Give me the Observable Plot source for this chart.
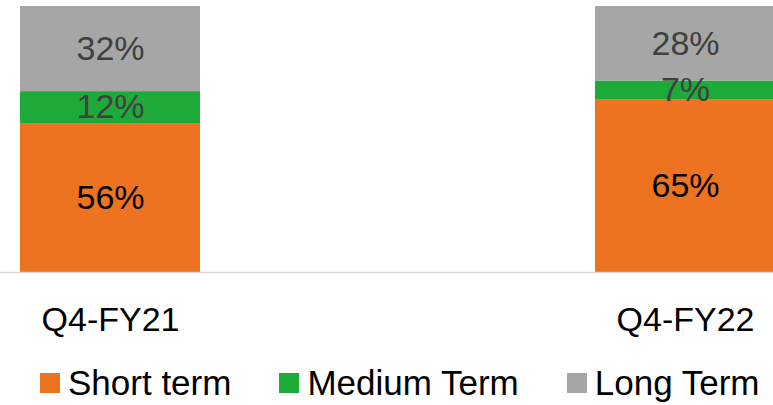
<!DOCTYPE html>
<html>
<head>
<meta charset="utf-8">
<script src="https://cdn.jsdelivr.net/npm/d3@7"></script>
<script src="https://cdn.jsdelivr.net/npm/@observablehq/plot@0.6"></script>
<style>
  html, body { margin: 0; padding: 0; background: #fff; overflow: hidden; }
  body { width: 773px; height: 405px; font-family: "Liberation Sans", Arial, sans-serif; }
  #legend { display: flex; gap: 48px; padding-left: 40px; margin-top: 21px; font-size: 35px; line-height: 34px; color: #000; }
  .item { display: flex; align-items: center; gap: 8px; white-space: nowrap; }
  .sw { width: 20px; height: 20px; flex: none; }
</style>
</head>
<body>
<div id="chart"></div>
<div id="legend"></div>
<script>
const periods = ["Q4-FY21", "Q4-FY22"];
const series = ["Short term", "Medium Term", "Long Term"];
const colors = ["#EE7321", "#1EAA38", "#A6A6A6"];
const shortTerm = [56, 65];
const mediumTerm = [12, 7];
const longTerm = [32, 28];

const valuesBySeries = [shortTerm, mediumTerm, longTerm];
const data = [];
series.forEach((s, si) => {
  periods.forEach((p, pi) => {
    data.push({period: p, series: s, value: valuesBySeries[si][pi]});
  });
});

const font = "'Liberation Sans', Arial, sans-serif";
const stackOpts = {x: "period", y: "value", z: "series", order: series};

const chart = Plot.plot({
  width: 773,
  height: 345,
  marginTop: 6,
  marginBottom: 73,
  marginLeft: 0,
  marginRight: 0,
  style: {fontFamily: font, background: "#fff"},
  x: {domain: periods, range: [0, 795], paddingInner: 0.6875, paddingOuter: 0.0339, align: 0.5},
  y: {domain: [0, 100], axis: null},
  color: {domain: series, range: colors},
  marks: [
    Plot.barY(data, {...stackOpts, fill: "series", clip: true}),
    Plot.ruleY([0], {stroke: "#D9D9D9", strokeWidth: 1.5}),
    Plot.text(data.filter(d => d.series === "Short term"), Plot.stackY({...stackOpts, text: d => d.value + "%", fill: "#000", fontSize: 34})),
    Plot.text(data, Plot.stackY({...stackOpts, text: d => d.series === "Short term" ? null : d.value + "%", fill: "#404040", fontSize: 34})),
    Plot.axisX({tickSize: 0, tickPadding: 34, fontSize: 34, fill: "#000", label: null})
  ]
});
document.getElementById("chart").appendChild(chart);

const legend = d3.select("#legend");
series.forEach((s, i) => {
  const item = legend.append("div").attr("class", "item");
  item.append("div").attr("class", "sw").style("background", colors[i]);
  item.append("span").text(s);
});
</script>
</body>
</html>
